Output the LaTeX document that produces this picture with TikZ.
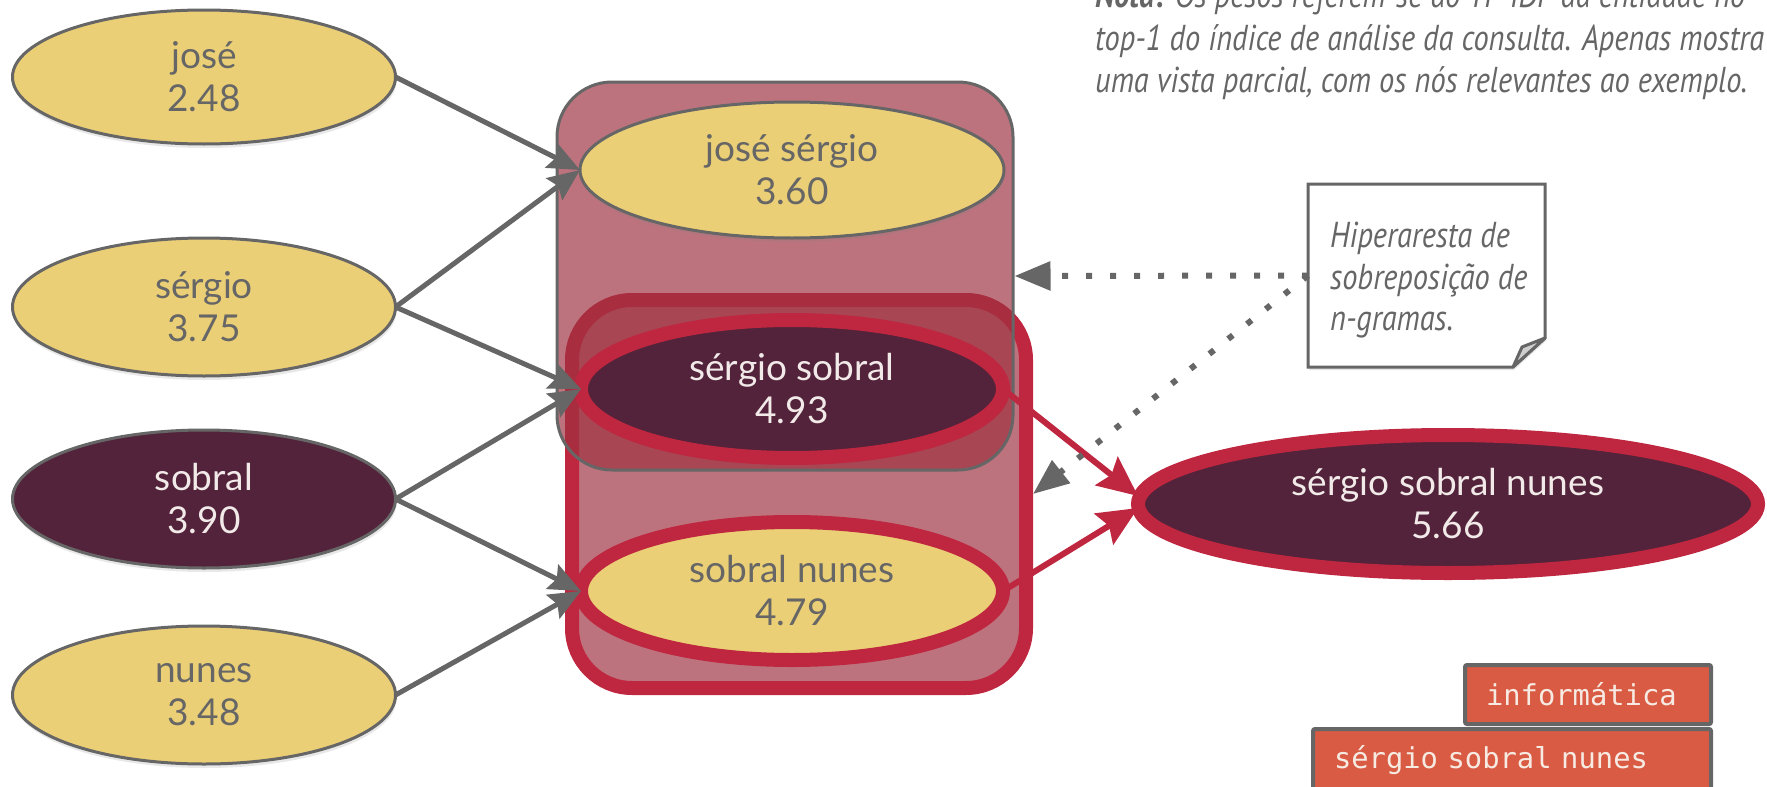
\documentclass[tikz,border=0pt]{standalone}
\usepackage{fontspec}
\setmainfont{Lato}
\newfontfamily\handfont[FakeStretch=0.845]{PT Sans}
\newfontfamily\tagfont[WordSpace={1,0,0}]{DejaVu Sans Mono}
\usetikzlibrary{shapes.geometric,arrows.meta,shadows}
\definecolor{cyellow}{HTML}{EBCF76}
\definecolor{cdark}{HTML}{52233A}
\definecolor{cred}{HTML}{BF263F}
\definecolor{cgray}{HTML}{666666}
\definecolor{cbox}{RGB}{158,49,64}
\definecolor{clight}{HTML}{F2E9E9}
\definecolor{ctag}{HTML}{D95B43}
\definecolor{ctagtext}{HTML}{F6EAE2}
\definecolor{cfold}{HTML}{CFCFCF}
\begin{document}
\begin{tikzpicture}[x=1pt,y=-1pt,
  ell/.style={ellipse, inner sep=0pt, outer sep=0pt, align=center,
    font=\fontsize{37}{43}\selectfont,
    drop shadow={opacity=0.18, shadow xshift=1pt, shadow yshift=-4pt}},
  wordY/.style={ell, fill=cyellow, draw=cgray, line width=3pt, text=cgray},
  wordD/.style={ell, fill=cdark, draw=cgray, line width=3pt, text=clight},
  gramY/.style={ell, fill=cyellow, draw=cred, line width=14pt, text=cgray},
  gramD/.style={ell, fill=cdark, draw=cred, line width=14pt, text=clight},
  hyperG/.style={rectangle, rounded corners=55pt, fill=cbox, fill opacity=0.68,
    draw=cgray, line width=3pt, inner sep=0pt},
  hyperR/.style={rectangle, rounded corners=60pt, fill=cbox, fill opacity=0.68,
    draw=cred, line width=14pt, inner sep=0pt},
  garrow/.style={draw=cgray, line width=5pt, -{Stealth[length=32pt,width=27pt,inset=5pt]}},
  rarrow/.style={draw=cred, line width=6pt, -{Stealth[length=40pt,width=36pt,inset=6pt]}},
  darrow/.style={draw=cgray, line width=6pt, dash pattern=on 6pt off 18pt,
    -{Triangle[length=36pt,width=28pt]}},
  hand/.style={font=\handfont\itshape\fontsize{36}{42}\selectfont, text=cgray,
    inner sep=0pt, anchor=base west},
  tagbox/.style={rectangle, fill=ctag, draw=cgray, line width=4pt, rounded corners=2pt,
    text=ctagtext, font=\tagfont\fontsize{28.8}{32}\selectfont, align=left,
    inner xsep=21pt, anchor=north east,
    drop shadow={opacity=0.2, shadow xshift=1pt, shadow yshift=-2pt}}
]
\useasboundingbox (0,0) rectangle (1767,787);
\clip (0,0) rectangle (1767,787);

% hyperedges
\node[hyperR, minimum width=454pt, minimum height=388pt] (hr) at (799,494) {};
\node[hyperG, minimum width=456pt, minimum height=388pt] (hg) at (785,276) {};

% word nodes
\node[wordY, minimum width=383pt, minimum height=134pt] (jose) at (204,77) {josé\\2.48};
\node[wordY, minimum width=383pt, minimum height=138pt] (sergio) at (204,307) {sérgio\\3.75};
\node[wordD, minimum width=383pt, minimum height=138pt] (sobral) at (204,499) {sobral\\3.90};
\node[wordY, minimum width=383pt, minimum height=138pt] (nunes) at (204,695) {nunes\\3.48};

% n-gram nodes
\node[wordY, minimum width=424pt, minimum height=136pt] (js) at (792,170) {josé sérgio\\3.60};
\node[gramD, minimum width=422pt, minimum height=138pt] (ss) at (792,389) {sérgio sobral\\4.93};
\node[gramY, minimum width=422pt, minimum height=138pt] (sn) at (792,591) {sobral nunes\\4.79};
\node[gramD, minimum width=620pt, minimum height=138pt] (ssn) at (1448,504) {sérgio sobral nunes\\5.66};

% connectors
\draw[garrow] (jose.east) -- (js.west);
\draw[garrow] (sergio.east) -- (js.west);
\draw[garrow] (sergio.east) -- (ss.west);
\draw[garrow] (sobral.east) -- (ss.west);
\draw[garrow] (sobral.east) -- (sn.west);
\draw[garrow] (nunes.east) -- (sn.west);
\draw[rarrow] (ss.east) -- ([yshift=8pt]ssn.west);
\draw[rarrow] (sn.east) -- ([yshift=-4pt]ssn.west);

% note
\node[rectangle, minimum width=237pt, minimum height=183pt, inner sep=0pt, outer sep=0pt,
  anchor=north west] (note) at (1308,184) {};
\draw[fill=white, draw=cgray, line width=3pt,
  drop shadow={opacity=0.2, shadow xshift=1pt, shadow yshift=-3pt}]
  (note.north west) -- (note.north east) -- ([yshift=29pt]note.south east)
  -- ([xshift=-32pt]note.south east) -- (note.south west) -- cycle;
\draw[fill=cfold, draw=cgray, line width=3pt, line join=round]
  ([yshift=29pt]note.south east) -- ([xshift=-23pt,yshift=20pt]note.south east)
  -- ([xshift=-32pt]note.south east) -- cycle;
\node[hand] (n1) at (1330,247) {Hiperaresta de};
\node[hand] (n2) at (1330,289) {sobreposição de};
\node[hand] (n3) at (1330,330) {n-gramas.};

\draw[darrow] (note.west) -- (hg.east);
\draw[darrow] (note.west) -- (hr.east);

% top note
\node[hand] (t1) at (1095,8) {\textbf{Nota:} Os pesos referem-se ao TF-IDF da entidade no};
\node[hand] (t2) at (1095,50) {top-1 do índice de análise da consulta. Apenas mostra};
\node[hand] (t3) at (1095,92) {uma vista parcial, com os nós relevantes ao exemplo.};

% tags
\node[tagbox, text width=204pt, minimum height=59pt] (tag1) at (1713,663) {informática};
\node[tagbox, text width=356pt, minimum height=62pt] (tag2) at (1713,727) {sérgio sobral nunes};
\end{tikzpicture}
\end{document}
